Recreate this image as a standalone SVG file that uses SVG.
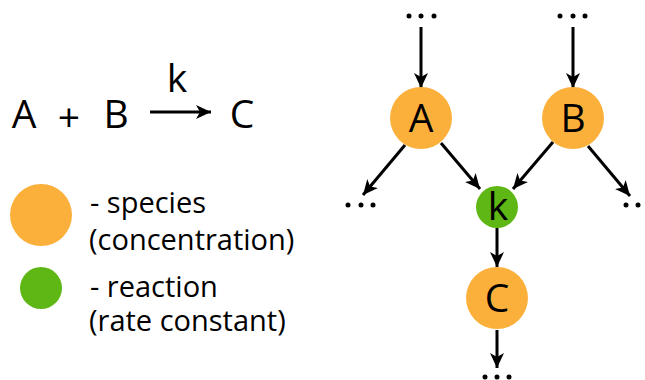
<svg xmlns="http://www.w3.org/2000/svg" width="645" height="380" viewBox="0 0 645 380">
<style>
.sp{fill:#fbb03b}
.rx{fill:#5fb715}
.t{font-family:"Open Sans","Noto Sans",sans-serif;fill:#000}
.big{font-size:39px}
.leg{font-size:29px}
.c{stroke:#000;stroke-width:3;fill:none;marker-end:url(#ah)}
.dot{fill:#000}
</style>
<defs>
<marker id="ah" markerUnits="userSpaceOnUse" markerWidth="16" markerHeight="16" refX="15" refY="8" orient="auto">
<path d="M0,1 L15,8 L0,15 L4,8 z" fill="#000"/>
</marker>
</defs>
<g id="equation">
<text class="t big" x="24" y="128" text-anchor="middle">A</text>
<text class="t big" x="69" y="131" text-anchor="middle">+</text>
<text class="t big" x="116" y="128" text-anchor="middle">B</text>
<text class="t big" x="177" y="92" text-anchor="middle">k</text>
<line class="c" x1="150" y1="112" x2="211" y2="112"/>
<text class="t big" x="242" y="128" text-anchor="middle">C</text>
</g>
<g id="legend-species">
<circle class="sp" cx="41" cy="215" r="31"/>
<text class="t leg" x="90" y="213">- species</text>
<text class="t leg" x="89" y="250">(concentration)</text>
</g>
<g id="legend-reaction">
<circle class="rx" cx="41" cy="288" r="21"/>
<text class="t leg" x="90" y="297">- reaction</text>
<text class="t leg" x="89" y="331">(rate constant)</text>
</g>
<g id="connectors">
<line class="c" x1="421" y1="27" x2="421" y2="88"/>
<line class="c" x1="573" y1="27" x2="573" y2="88"/>
<line class="c" x1="405" y1="145" x2="363" y2="195"/>
<line class="c" x1="441" y1="143" x2="480" y2="189"/>
<line class="c" x1="553" y1="142" x2="513" y2="189"/>
<line class="c" x1="588" y1="146" x2="630" y2="196"/>
<line class="c" x1="497" y1="228" x2="497" y2="267"/>
<line class="c" x1="497" y1="330" x2="497" y2="368"/>
</g>
<g id="node-A">
<circle class="sp" cx="421" cy="118" r="31"/>
<text class="t big" x="421" y="132" text-anchor="middle">A</text>
</g>
<g id="node-B">
<circle class="sp" cx="573" cy="118" r="31"/>
<text class="t big" x="573" y="132" text-anchor="middle">B</text>
</g>
<g id="node-k">
<circle class="rx" cx="497" cy="207" r="21"/>
<text class="t big" x="498" y="220" text-anchor="middle">k</text>
</g>
<g id="node-C">
<circle class="sp" cx="497" cy="298" r="31"/>
<text class="t big" x="497" y="312" text-anchor="middle">C</text>
</g>
<g id="dots">
<circle class="dot" cx="409" cy="16" r="2.5"/><circle class="dot" cx="421" cy="16" r="2.5"/><circle class="dot" cx="434" cy="16" r="2.5"/>
<circle class="dot" cx="560" cy="16" r="2.5"/><circle class="dot" cx="573" cy="16" r="2.5"/><circle class="dot" cx="585" cy="16" r="2.5"/>
<circle class="dot" cx="348" cy="205" r="2.5"/><circle class="dot" cx="361" cy="205" r="2.5"/><circle class="dot" cx="373" cy="205" r="2.5"/>
<circle class="dot" cx="626" cy="205" r="2.5"/><circle class="dot" cx="638" cy="205" r="2.5"/><circle class="dot" cx="650" cy="205" r="2.5"/>
<circle class="dot" cx="485" cy="377" r="2.5"/><circle class="dot" cx="497" cy="377" r="2.5"/><circle class="dot" cx="509" cy="377" r="2.5"/>
</g>
</svg>
